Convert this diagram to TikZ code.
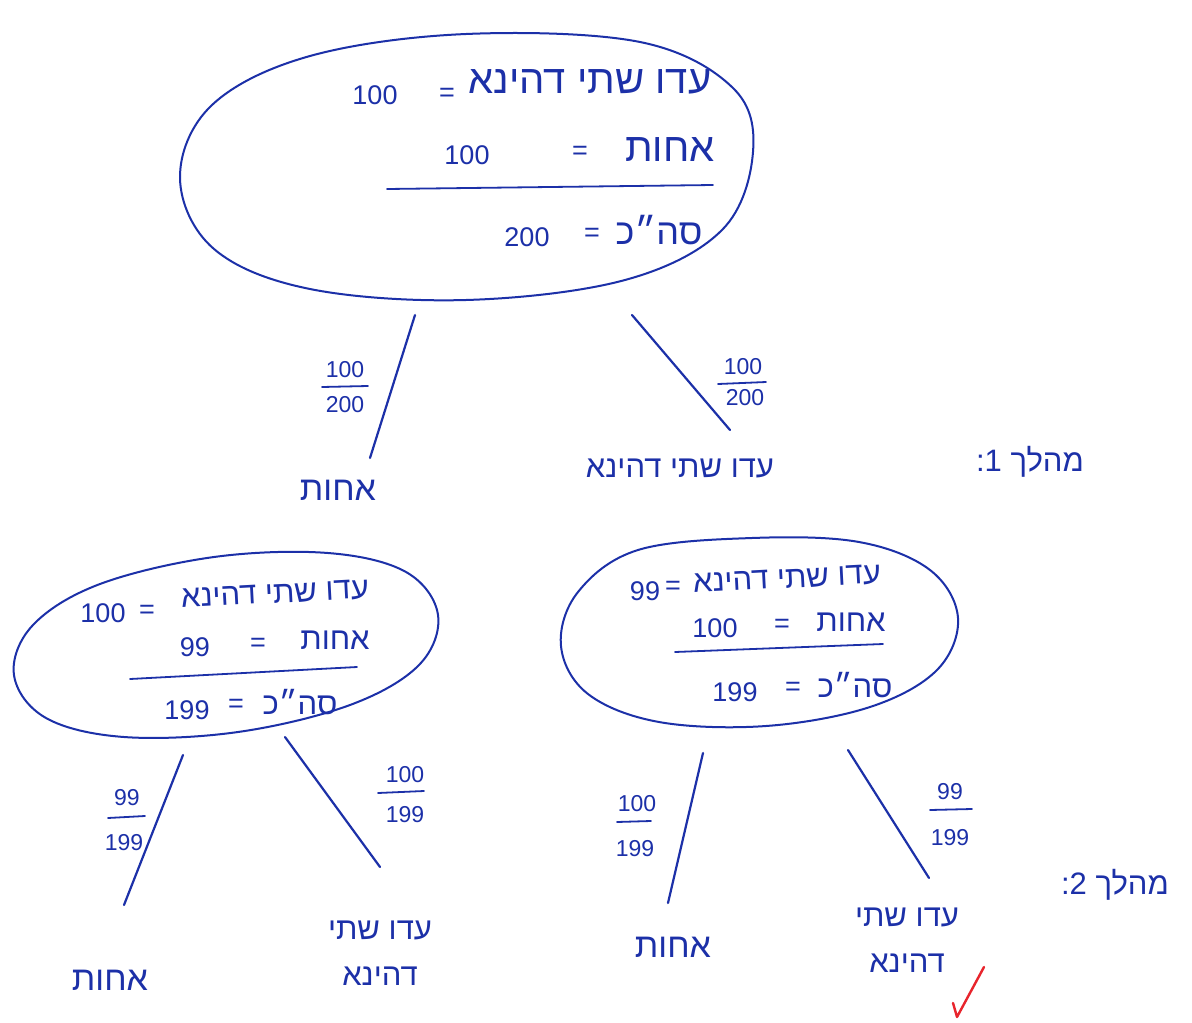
\documentclass[tikz,border=0pt]{standalone}
\usepackage{fontspec}
\setmainfont{Liberation Sans}
\newfontfamily\heb[Script=Hebrew]{Liberation Sans}
\TeXXeTstate=1
\definecolor{ink}{RGB}{28,48,168}
\definecolor{tickred}{RGB}{232,36,44}
\newcommand{\hb}[1]{{\heb\beginR #1\endR}}
\tikzset{
  bubble/.style={draw=ink, line width=2pt},
  branch/.style={draw=ink, line width=2.2pt, line cap=round},
  fracbar/.style={draw=ink, line width=1.8pt, line cap=round},
  wordL/.style={text=ink, inner sep=0pt, font=\heb\fontsize{40}{44}\selectfont},
  wordM/.style={text=ink, inner sep=0pt, font=\heb\fontsize{31}{36}\selectfont},
  wordS/.style={text=ink, inner sep=0pt, align=center, font=\heb\fontsize{31}{46}\selectfont},
  num/.style={text=ink, inner sep=0pt, font=\fontsize{27}{30}\selectfont},
  fnum/.style={text=ink, inner sep=0pt, font=\fontsize{23}{26}\selectfont},
}
\begin{document}
\begin{tikzpicture}[x=1pt,y=-1pt]
\useasboundingbox[fill=white] (0,0) rectangle (1192,1023);

% ---------- top bubble ----------
\draw[bubble] plot[smooth cycle, tension=0.6] coordinates {
  (753,152) (733,88) (640,42) (466,34) (310,56) (212,105)
  (180,178) (214,249) (310,289) (466,300) (625,280) (722,230)};
\node[wordL] (tw1) at (590,82) {\hb{עדו שתי דהינא}};
\node[num] (te1) at (447,95) {=};
\node[num] (tn1) at (375,95) {100};
\node[wordL] (tw2) at (670,150) {\hb{אחות}};
\node[num] (te2) at (580,153) {=};
\node[num] (tn2) at (467,155) {100};
\coordinate (tb1) at (387,189);
\coordinate (tb2) at (713,185);
\draw[fracbar] (tb1) -- (tb2);
\node[wordM, font=\heb\fontsize{36}{40}\selectfont] (tw3) at (659,230) {\hb{סה״כ}};
\node[num] (te3) at (592,235) {=};
\node[num] (tn3) at (527,237) {200};

% ---------- level 1 ----------
\coordinate (a1) at (415,315);
\coordinate (a2) at (370,458);
\draw[branch] (a1) -- (a2);
\node[fnum] (fa1) at (345,370) {100};
\coordinate (fab1) at (322,387); \coordinate (fab2) at (368,386);
\draw[fracbar] (fab1) -- (fab2);
\node[fnum] (fa2) at (345,405) {200};
\node[wordM, font=\heb\fontsize{34}{38}\selectfont] (leafA) at (338,490) {\hb{אחות}};

\coordinate (b1) at (632,315);
\coordinate (b2) at (730,430);
\draw[branch] (b1) -- (b2);
\node[fnum] (fb1) at (743,367) {100};
\coordinate (fbb1) at (718,384); \coordinate (fbb2) at (766,382);
\draw[fracbar] (fbb1) -- (fbb2);
\node[fnum] (fb2) at (745,398) {200};
\node[wordS] (leafB) at (680,468) {\hb{עדו שתי דהינא}};

\node[wordS] (step1) at (1030,462) {\hb{מהלך 1:}};

% ---------- left middle bubble ----------
\draw[bubble] plot[smooth cycle, tension=0.6] coordinates {
  (438,615) (406,572) (328,553) (214,557) (100,584) (33,625)
  (14,675) (46,718) (124,737) (238,732) (350,705) (419,665)};
\node[wordM, rotate=3] (lw1) at (275,594) {\hb{עדו שתי דהינא}};
\node[num] (le1) at (147,612) {=};
\node[num] (ln1) at (103,613) {100};
\node[wordM] (lw2) at (335,640) {\hb{אחות}};
\node[num] (le2) at (258,645) {=};
\node[num] (ln2) at (195,647) {99};
\coordinate (lb1) at (130,679); \coordinate (lb2) at (357,667);
\draw[fracbar] (lb1) -- (lb2);
\node[wordM] (lw3) at (300,702) {\hb{סה״כ}};
\node[num] (le3) at (236,706) {=};
\node[num] (ln3) at (187,710) {199};

% ---------- right middle bubble ----------
\draw[bubble] plot[smooth cycle, tension=0.6] coordinates {
  (958,618) (930,570) (859,542) (752,538) (638,550) (578,592)
  (561,646) (588,694) (659,722) (766,726) (870,707) (937,670)};
\node[wordM, rotate=3] (rw1) at (787,579) {\hb{עדו שתי דהינא}};
\node[num] (re1) at (673,588) {=};
\node[num] (rn1) at (645,591) {99};
\node[wordM] (rw2) at (851,622) {\hb{אחות}};
\node[num] (re2) at (782,626) {=};
\node[num] (rn2) at (715,628) {100};
\coordinate (rb1) at (675,652); \coordinate (rb2) at (883,644);
\draw[fracbar] (rb1) -- (rb2);
\node[wordM] (rw3) at (855,685) {\hb{סה״כ}};
\node[num] (re3) at (793,689) {=};
\node[num] (rn3) at (735,692) {199};

% ---------- level 2, left ----------
\coordinate (c1) at (183,755); \coordinate (c2) at (124,905);
\draw[branch] (c1) -- (c2);
\node[fnum] (fc1) at (127,798) {99};
\coordinate (fcb1) at (108,818); \coordinate (fcb2) at (145,816);
\draw[fracbar] (fcb1) -- (fcb2);
\node[fnum] (fc2) at (124,843) {199};
\node[wordM, font=\heb\fontsize{34}{38}\selectfont] (leafC) at (110,980) {\hb{אחות}};

\coordinate (d1) at (285,737); \coordinate (d2) at (380,867);
\draw[branch] (d1) -- (d2);
\node[fnum] (fd1) at (405,775) {100};
\coordinate (fdb1) at (378,793); \coordinate (fdb2) at (424,791);
\draw[fracbar] (fdb1) -- (fdb2);
\node[fnum] (fd2) at (405,815) {199};
\node[wordS] (leafD) at (380,953) {\hb{עדו שתי}\\\hb{דהינא}};

% ---------- level 2, right ----------
\coordinate (e1) at (703,753); \coordinate (e2) at (668,903);
\draw[branch] (e1) -- (e2);
\node[fnum] (fe1) at (637,804) {100};
\coordinate (feb1) at (617,822); \coordinate (feb2) at (651,821);
\draw[fracbar] (feb1) -- (feb2);
\node[fnum] (fe2) at (635,849) {199};
\node[wordM, font=\heb\fontsize{34}{38}\selectfont] (leafE) at (673,947) {\hb{אחות}};

\coordinate (g1) at (848,750); \coordinate (g2) at (929,878);
\draw[branch] (g1) -- (g2);
\node[fnum] (fg1) at (950,792) {99};
\coordinate (fgb1) at (930,810); \coordinate (fgb2) at (972,809);
\draw[fracbar] (fgb1) -- (fgb2);
\node[fnum] (fg2) at (950,838) {199};
\node[wordS] (leafG) at (907,940) {\hb{עדו שתי}\\\hb{דהינא}};

\node[wordS] (step2) at (1115,885) {\hb{מהלך 2:}};

% ---------- check mark ----------
\coordinate (k1) at (953,1003);
\coordinate (k2) at (957,1017);
\coordinate (k3) at (984,967);
\draw[draw=tickred, line width=2.4pt, line cap=round, line join=round] (k1) -- (k2) -- (k3);
\end{tikzpicture}
\end{document}
